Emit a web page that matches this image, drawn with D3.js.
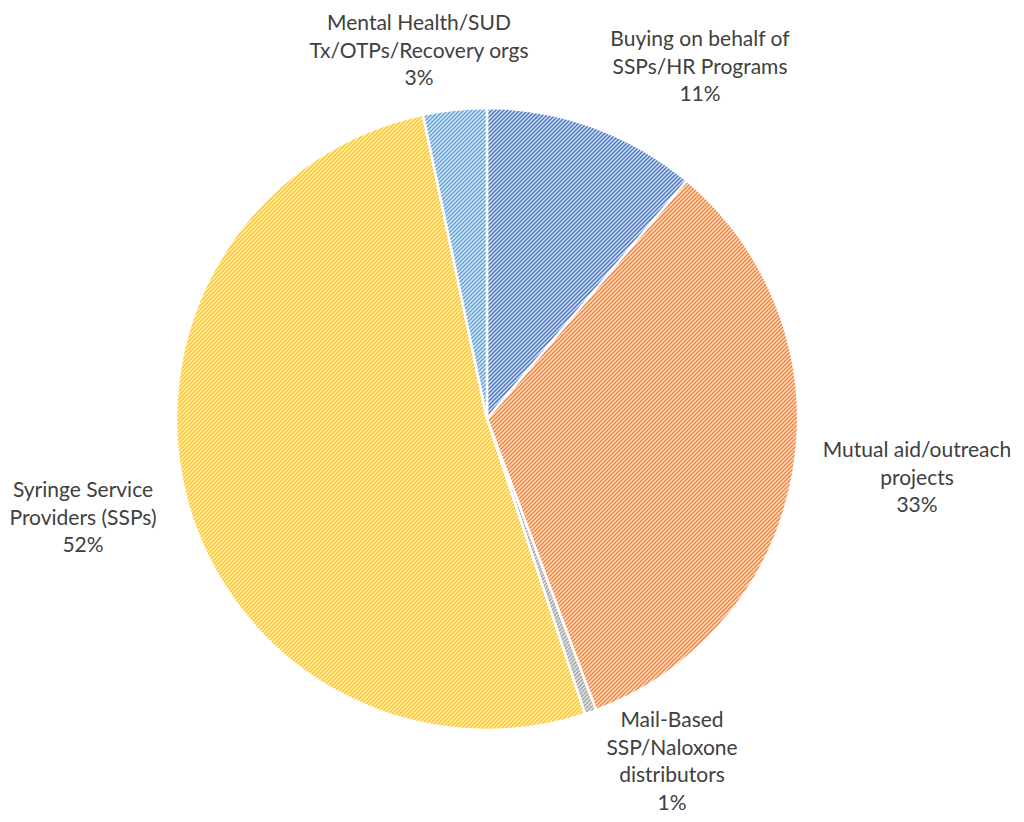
<!DOCTYPE html>
<html>
<head>
<meta charset="utf-8">
<script src="https://cdn.jsdelivr.net/npm/d3@7"></script>
<style>
  html, body { margin: 0; padding: 0; background: #ffffff; }
  svg { display: block; }
  text { font-family: Lato, "Open Sans", sans-serif; fill: #404040; }
</style>
</head>
<body>
<svg id="chart" width="1024" height="822"></svg>
<script>
// Share of recipients by organisation type (percent)
const categories = [
  "Buying on behalf of SSPs/HR Programs",
  "Mutual aid/outreach projects",
  "Mail-Based SSP/Naloxone distributors",
  "Syringe Service Providers (SSPs)",
  "Mental Health/SUD Tx/OTPs/Recovery orgs"
];
const values = [11.1, 33.2, 0.6, 51.8, 3.3];
// Label text broken into lines as displayed
const labelLines = [
  ["Buying on behalf of", "SSPs/HR Programs"],
  ["Mutual aid/outreach", "projects"],
  ["Mail-Based", "SSP/Naloxone", "distributors"],
  ["Syringe Service", "Providers (SSPs)"],
  ["Mental Health/SUD", "Tx/OTPs/Recovery orgs"]
];

// Styling and layout
const strokeColors = ["#4a78c8", "#f0843a", "#a5a5a5", "#ffc31a", "#64a2d8"];
const tintColors   = ["#dbe4f4", "#fde2d0", "#e6e6e6", "#fff2cc", "#dceaf6"];
const labelPos = [
  { x: 700, y: 46 },
  { x: 917, y: 457 },
  { x: 672, y: 727 },
  { x: 83,  y: 497 },
  { x: 419, y: 30 }
];
const lineHeight = 27.5;

const svg = d3.select("#chart");
const cx = 487, cy = 419, radius = 311;

// Upward diagonal hatch patterns, one per slice colour
const tile = 4;
const defs = svg.append("defs");
strokeColors.forEach((c, i) => {
  const p = defs.append("pattern")
    .attr("id", "hatch" + i)
    .attr("patternUnits", "userSpaceOnUse")
    .attr("width", tile).attr("height", tile);
  p.append("rect").attr("width", tile).attr("height", tile).attr("fill", tintColors[i]);
  p.append("path")
    .attr("d", `M0,${tile} L${tile},0 M${-tile / 2},${tile / 2} L${tile / 2},${-tile / 2} M${tile / 2},${tile * 1.5} L${tile * 1.5},${tile / 2}`)
    .attr("stroke", c).attr("stroke-width", 1.5);
});

const data = categories.map((name, i) => ({ name, value: values[i], index: i }));

const pie = d3.pie()
  .value(d => d.value)
  .sort(null)
  .startAngle(0)
  .endAngle(2 * Math.PI);

const arc = d3.arc().innerRadius(0).outerRadius(radius);

const g = svg.append("g").attr("transform", `translate(${cx},${cy})`);

g.selectAll("path.slice")
  .data(pie(data))
  .join("path")
  .attr("class", "slice")
  .attr("d", arc)
  .attr("fill", d => `url(#hatch${d.data.index})`)
  .attr("stroke", "#ffffff")
  .attr("stroke-width", 2.5)
  .attr("stroke-linejoin", "round");

// Data labels: category text followed by rounded percentage
const total = d3.sum(values);
const labels = svg.append("g").selectAll("text.label")
  .data(data)
  .join("text")
  .attr("class", "label")
  .attr("text-anchor", "middle")
  .attr("font-size", 21)
  .attr("x", d => labelPos[d.index].x)
  .attr("y", d => labelPos[d.index].y);

labels.each(function (d) {
  const t = d3.select(this);
  const lines = labelLines[d.index].concat([Math.round(d.value / total * 100) + "%"]);
  lines.forEach((line, k) => {
    t.append("tspan")
      .attr("x", labelPos[d.index].x)
      .attr("dy", k === 0 ? 0 : lineHeight)
      .text(line);
  });
});
</script>
</body>
</html>
